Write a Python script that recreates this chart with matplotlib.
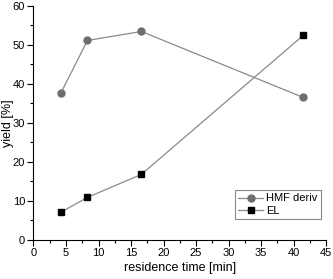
import matplotlib
matplotlib.use("Agg")
import matplotlib.pyplot as plt
from matplotlib.ticker import MultipleLocator

plt.rcParams["font.family"] = ["Liberation Sans", "DejaVu Sans"]

residence_time = [4.2, 8.3, 16.6, 41.5]
hmf_deriv = [37.6, 51.1, 53.4, 36.5]
el = [7.1, 10.9, 16.8, 52.4]

fig = plt.figure(figsize=(3.33, 2.79), dpi=100)
ax = fig.add_axes([0.1006, 0.1398, 0.8784, 0.8398])

ax.plot(residence_time, hmf_deriv, "-", color="#8a8a8a", linewidth=0.9,
        marker="o", markersize=5, markerfacecolor="#6e6e6e",
        markeredgecolor="#6e6e6e", label="HMF deriv")
ax.plot(residence_time, el, "-", color="#8a8a8a", linewidth=0.9,
        marker="s", markersize=4.5, markerfacecolor="black",
        markeredgecolor="black", label="EL")

ax.set_xlim(0, 45)
ax.set_ylim(0, 60)
ax.xaxis.set_major_locator(MultipleLocator(5))
ax.xaxis.set_minor_locator(MultipleLocator(2.5))
ax.yaxis.set_major_locator(MultipleLocator(10))
ax.yaxis.set_minor_locator(MultipleLocator(5))
ax.tick_params(which="major", direction="out", length=4, width=0.8, labelsize=8, pad=2)
ax.tick_params(which="minor", direction="out", length=2, width=0.8)
for side in ("top", "right"):
    ax.spines[side].set_visible(False)

ax.set_xlabel("residence time [min]", fontsize=9, labelpad=3)
ax.set_ylabel("yield [%]", fontsize=9)
ax.yaxis.set_label_coords(-0.066, 0.5)

leg = ax.legend(loc="lower right", bbox_to_anchor=(0.99, 0.08), fontsize=8,
                fancybox=False, edgecolor="#888888", framealpha=1,
                handlelength=2.2, borderpad=0.3, labelspacing=0.2,
                handletextpad=0.3, borderaxespad=0.2)
leg.get_frame().set_linewidth(0.8)

fig.savefig("out.png", dpi=100)
